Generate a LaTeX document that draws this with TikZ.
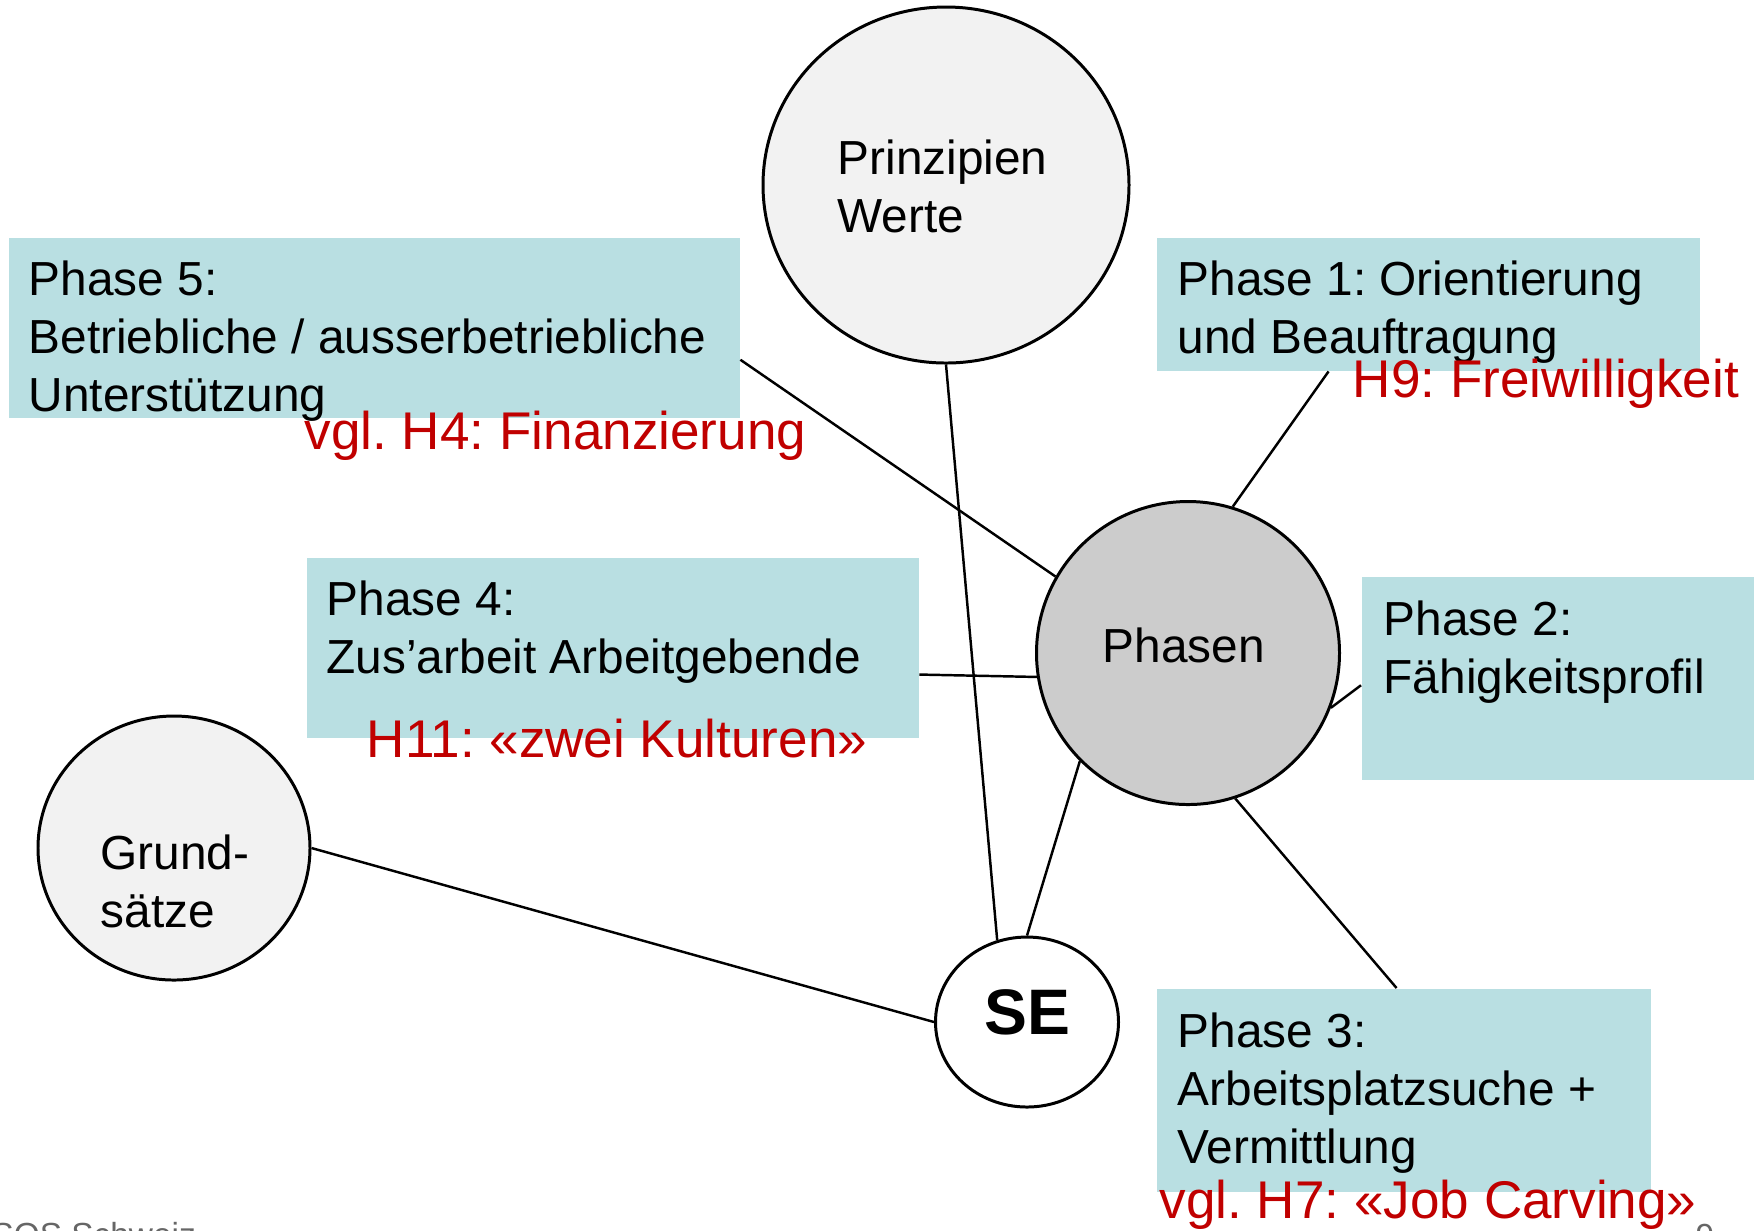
\documentclass[tikz,border=0pt]{standalone}
\usepackage{fontspec}
\setmainfont{Liberation Sans}
\usetikzlibrary{shapes.geometric}
\definecolor{boxblue}{HTML}{B9DFE2}
\definecolor{hintred}{HTML}{C00000}
\definecolor{lightgr}{HTML}{F2F2F2}
\definecolor{midgr}{HTML}{CCCCCC}
\definecolor{footgr}{HTML}{666666}
\frenchspacing
\begin{document}
\begin{tikzpicture}[x=0.1mm,y=-0.1mm,
  phasebox/.style={rectangle,fill=boxblue,inner sep=0,anchor=north west},
  ring/.style={ellipse,draw=black,line width=0.85pt,inner sep=0},
  txt/.style={anchor=base west,inner sep=0,align=left,font=\fontsize{13.6}{16.5}\selectfont},
  hint/.style={anchor=base west,inner sep=0,text=hintred,font=\fontsize{15.1}{18}\selectfont},
  foot/.style={anchor=base west,inner sep=0,text=footgr,font=\fontsize{9.5}{11}\selectfont},
  link/.style={line width=0.7pt}]
\useasboundingbox (0,0) rectangle (1754,1230);
% boxes
\node[phasebox,minimum width=73.1mm,minimum height=18mm] (p5) at (8,237) {};
\node[phasebox,minimum width=54.3mm,minimum height=13.3mm] (p1) at (1156,237) {};
\node[phasebox,minimum width=61.2mm,minimum height=18mm] (p4) at (306,557) {};
\node[phasebox,minimum width=40mm,minimum height=20.3mm] (p2) at (1361,576) {};
\node[phasebox,minimum width=49.4mm,minimum height=20.3mm] (p3) at (1156,988) {};
% circles
\node[ring,fill=lightgr,minimum width=36.6mm,minimum height=35.6mm] (pr) at (946,185) {};
\node[ring,fill=midgr,minimum width=30.3mm,minimum height=30.3mm] (ph) at (1188,653) {};
\node[ring,fill=lightgr,minimum width=27.2mm,minimum height=26.4mm] (gr) at (174,848) {};
\node[ring,fill=white,minimum width=18.3mm,minimum height=17mm] (se) at (1027,1022) {};
% links
\draw[link] (p5.-5) -- (ph.150);
\draw[link] (pr.south) -- (se.110);
\draw[link] (p1.-146) -- (ph.73);
\draw[link] (p4.-5.6) -- (ph.189);
\draw[link] (p2.182.5) -- (ph.-21);
\draw[link] (ph.-72) -- (p3.94.5);
\draw[link] (ph.-135) -- (se.north);
\draw[link] (gr.east) -- (se.west);
% texts (base = last line)
\node[txt] (t5) at (28,411) {Phase 5:\\Betriebliche / ausserbetriebliche\\Unterstützung};
\node[txt] (t1) at (1177,353) {Phase 1: Orientierung\\und Beauftragung};
\node[txt] (t4) at (326,673) {Phase 4:\\Zus’arbeit Arbeitgebende};
\node[txt] (t2) at (1383,693) {Phase 2:\\Fähigkeitsprofil};
\node[txt] (t3) at (1177,1163) {Phase 3:\\Arbeitsplatzsuche +\\Vermittlung};
\node[txt] (tpr) at (837,232) {Prinzipien\\Werte};
\node[txt] (tph) at (1102,662) {Phasen};
\node[txt] (tgr) at (100,927) {Grund-\\sätze};
\node[anchor=base,inner sep=0,font=\fontsize{18.3}{22}\selectfont\bfseries] (tse) at (1027,1034) {SE};
% red hints
\node[hint] (h4) at (304,449) {vgl. H4: Finanzierung};
\node[hint] (h9) at (1352,397) {H9: Freiwilligkeit};
\node[hint] (h11) at (366,757) {H11: «zwei Kulturen»};
\node[hint] (h7) at (1159,1218) {vgl. H7: «Job Carving»};
% footer
\node[foot] (src) at (-9,1246) {SOS Schweiz};
\node[foot] (pg) at (1695,1247) {9};
\end{tikzpicture}
\end{document}
